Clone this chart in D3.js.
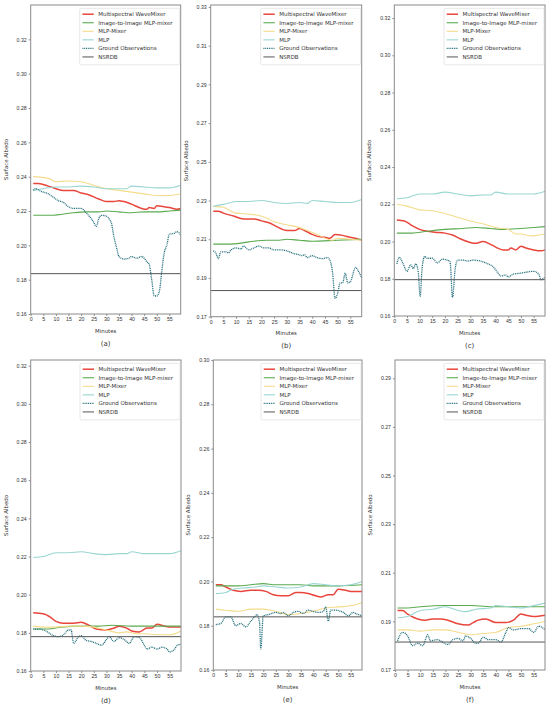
<!DOCTYPE html>
<html>
<head>
<meta charset="utf-8">
<script src="https://cdn.jsdelivr.net/npm/d3@7"></script>
<style>
  body { margin: 0; background: #fff; }
  svg { font-family: "DejaVu Sans", sans-serif; }
</style>
</head>
<body>
<div id="chart"></div>
<script>
// series names, legend order
const seriesNames = ["Multispectral WaveMixer", "Image-to-Image MLP-mixer", "MLP-Mixer", "MLP", "Ground Observations", "NSRDB"];
const panelLabels = ["(a)", "(b)", "(c)", "(d)", "(e)", "(f)"];
const xTicks = [0, 5, 10, 15, 20, 25, 30, 35, 40, 45, 50, 55];

// panel (a)
const aWave = [[1,0.236],[3,0.236],[7,0.2345],[10,0.233],[13,0.232],[17,0.232],[20,0.2305],[23,0.2295],[27,0.227],[30,0.2255],[33,0.2255],[35,0.226],[37,0.2255],[40,0.224],[44,0.2215],[46,0.221],[47,0.222],[49,0.2215],[50,0.223],[53,0.2225],[55,0.222],[58,0.221],[59.5,0.2215]];
const aI2I = [[1,0.2175],[7,0.2175],[12,0.218],[17,0.219],[22,0.2195],[27,0.2195],[30,0.22],[35,0.2195],[40,0.219],[45,0.2195],[50,0.2195],[55,0.22],[59.5,0.2205]];
const aMixer = [[1,0.24],[7,0.239],[10,0.237],[15,0.2375],[20,0.237],[25,0.235],[30,0.233],[35,0.232],[40,0.231],[45,0.23],[50,0.229],[55,0.229],[59.5,0.23]];
const aMLP = [[1,0.232],[5,0.233],[10,0.234],[15,0.234],[20,0.2345],[25,0.234],[30,0.233],[35,0.233],[38,0.233],[40,0.2345],[45,0.234],[50,0.2335],[55,0.2335],[59.5,0.235]];
const aGround = [[1,0.232],[2,0.233],[4,0.2315],[7,0.23],[9,0.228],[11,0.226],[13,0.225],[15,0.2225],[17,0.2215],[20,0.2215],[22,0.219],[23.5,0.2165],[25,0.2135],[26,0.211],[27,0.2155],[28,0.2175],[30,0.217],[31.5,0.2145],[32,0.213],[33,0.205],[34,0.199],[35,0.1935],[37,0.192],[39,0.1925],[40,0.1935],[42,0.1925],[44,0.1935],[45,0.1925],[46,0.1905],[47,0.189],[48,0.18],[49,0.1705],[50,0.1705],[51,0.173],[52,0.185],[53,0.196],[54,0.2],[55,0.2065],[57,0.207],[58,0.208],[59.5,0.206]];
const aNsrdb = 0.1835;

// panel (b)
const bWave = [[1,0.2245],[3,0.2245],[5,0.2235],[9,0.222],[13,0.2205],[17,0.2205],[20,0.2195],[23,0.2185],[26,0.2165],[30,0.2145],[33,0.2145],[35,0.2155],[37,0.2145],[40,0.2125],[42,0.2115],[45,0.211],[47,0.2105],[49,0.2125],[52,0.212],[55,0.211],[57,0.2105],[59.5,0.2095]];
const bI2I = [[1,0.2075],[7,0.2075],[12,0.208],[17,0.209],[22,0.2095],[27,0.2095],[30,0.21],[35,0.2095],[40,0.209],[50,0.2095],[59.5,0.21]];
const bMixer = [[1,0.227],[5,0.2265],[8,0.2245],[10,0.2235],[15,0.223],[18,0.2225],[22,0.221],[25,0.219],[30,0.2175],[35,0.216],[38,0.2145],[42,0.2125],[45,0.2105],[48,0.2095],[50,0.2105],[55,0.21],[59.5,0.2095]];
const bMLP = [[1,0.227],[5,0.228],[10,0.2295],[15,0.2295],[20,0.23],[25,0.229],[30,0.2285],[35,0.229],[38,0.2285],[40,0.23],[45,0.2295],[50,0.229],[55,0.229],[59.5,0.2305]];
const bGround = [[1,0.204],[2,0.203],[3,0.2],[4,0.2035],[6,0.2035],[7,0.203],[8,0.2045],[10,0.2055],[12,0.205],[13,0.2065],[15,0.2045],[17,0.2055],[19,0.2065],[21,0.2055],[23,0.2055],[25,0.2045],[28,0.2045],[30,0.204],[33,0.2025],[35,0.202],[36,0.2015],[37,0.202],[38,0.2005],[40,0.2015],[42,0.2005],[44,0.2],[46,0.2005],[47,0.199],[48,0.193],[49,0.1795],[50,0.182],[51,0.1875],[52,0.1875],[53,0.1925],[54,0.1875],[55,0.188],[56.5,0.194],[57,0.1955],[58,0.194],[59.5,0.19]];
const bNsrdb = 0.1835;

// panel (c)
const cWave = [[1,0.2115],[4,0.211],[7,0.2085],[10,0.2065],[13,0.2055],[16,0.205],[20,0.2045],[23,0.2035],[26,0.2015],[30,0.1995],[32,0.199],[35,0.2],[38,0.1985],[40,0.197],[43,0.1955],[45,0.1955],[46,0.1965],[48,0.1955],[50,0.1975],[52,0.1965],[55,0.1955],[58,0.195],[59.5,0.1955]];
const cI2I = [[1,0.2045],[7,0.2045],[13,0.2055],[20,0.2065],[27,0.207],[32,0.2075],[38,0.207],[43,0.2065],[50,0.207],[55,0.2075],[59.5,0.208]];
const cMixer = [[1,0.22],[5,0.219],[10,0.217],[15,0.2165],[20,0.215],[25,0.213],[30,0.211],[35,0.2095],[40,0.2075],[45,0.2065],[48,0.204],[50,0.204],[54,0.203],[57,0.2035],[59.5,0.204]];
const cMLP = [[1,0.223],[5,0.2235],[10,0.2255],[15,0.2255],[20,0.2265],[25,0.2255],[30,0.2245],[35,0.225],[38,0.225],[40,0.2265],[45,0.2255],[50,0.2255],[55,0.2255],[59.5,0.227]];
const cGround = [[1,0.188],[2,0.1915],[3.5,0.188],[5,0.184],[6.5,0.1875],[7.5,0.1855],[8.5,0.188],[9.5,0.183],[10.2,0.1705],[11,0.186],[12,0.192],[13,0.191],[15,0.191],[17,0.1885],[19,0.1905],[21,0.19],[22,0.189],[23,0.17],[24,0.185],[25,0.19],[27,0.19],[29,0.1895],[31,0.19],[34,0.1895],[37,0.188],[39,0.1865],[41,0.183],[42,0.1815],[44,0.182],[45,0.181],[47,0.1825],[50,0.183],[52,0.1835],[55,0.184],[57,0.1825],[58,0.1795],[59.5,0.181]];
const cNsrdb = 0.1795;

// panel (d)
const dWave = [[1,0.1905],[5,0.19],[8,0.188],[10,0.186],[13,0.185],[17,0.185],[20,0.1855],[23,0.184],[26,0.182],[30,0.1815],[33,0.1825],[35,0.1835],[38,0.1825],[40,0.181],[43,0.1805],[46,0.1825],[48,0.1825],[50,0.1845],[53,0.1835],[56,0.183],[59.5,0.183]];
const dI2I = [[1,0.182],[7,0.182],[12,0.183],[20,0.1835],[27,0.1835],[32,0.184],[40,0.1835],[50,0.1835],[59.5,0.1835]];
const dMixer = [[1,0.1835],[5,0.183],[10,0.183],[15,0.1835],[20,0.1835],[25,0.183],[30,0.1815],[35,0.18],[38,0.1805],[42,0.1795],[45,0.1795],[50,0.179],[55,0.179],[59.5,0.181]];
const dMLP = [[1,0.2195],[5,0.22],[10,0.222],[15,0.222],[20,0.2225],[25,0.2215],[30,0.221],[35,0.2215],[38,0.2215],[40,0.2225],[45,0.2215],[50,0.2215],[55,0.2215],[59.5,0.223]];
const dGround = [[1,0.182],[3,0.182],[6,0.181],[9,0.1785],[11,0.178],[13,0.179],[15,0.1815],[16,0.1815],[17,0.1745],[19,0.178],[20,0.1785],[22,0.176],[24,0.1755],[26,0.1745],[28,0.1735],[30,0.1765],[31,0.178],[33,0.1755],[35,0.1775],[37,0.1765],[39,0.1745],[41,0.178],[43,0.1775],[45,0.1735],[46,0.1715],[48,0.1725],[50,0.1715],[52,0.1725],[54,0.1715],[55,0.17],[57,0.1715],[58,0.1735],[59.5,0.174]];
const dNsrdb = 0.178;

// panel (e)
const eWave = [[1,0.1985],[3,0.1985],[5,0.1975],[8,0.196],[11,0.1955],[15,0.196],[18,0.196],[21,0.1955],[24,0.194],[27,0.1935],[30,0.1935],[33,0.195],[35,0.195],[38,0.1945],[41,0.1935],[43,0.193],[46,0.194],[48,0.194],[50,0.1965],[53,0.196],[55,0.1955],[59.5,0.1955]];
const eI2I = [[1,0.198],[5,0.198],[10,0.198],[15,0.1985],[20,0.199],[25,0.1985],[30,0.1985],[35,0.1985],[40,0.198],[45,0.198],[50,0.198],[59.5,0.1985]];
const eMixer = [[1,0.1875],[5,0.187],[10,0.1865],[15,0.1875],[20,0.1875],[25,0.1865],[30,0.185],[35,0.1855],[40,0.1865],[45,0.188],[50,0.1885],[55,0.189],[59.5,0.1905]];
const eMLP = [[1,0.1945],[5,0.195],[8,0.1965],[12,0.197],[17,0.1975],[20,0.198],[25,0.1975],[30,0.197],[35,0.1975],[38,0.1985],[40,0.199],[45,0.1985],[50,0.198],[55,0.1985],[59.5,0.2]];
const eGround = [[1,0.1805],[3,0.181],[5,0.184],[7,0.184],[9,0.18],[11,0.181],[13,0.1795],[15,0.182],[16.5,0.184],[17.5,0.185],[18.5,0.1815],[19,0.1695],[20,0.1845],[22,0.185],[25,0.186],[27,0.1855],[28,0.186],[30,0.1845],[32,0.186],[34,0.1865],[36,0.1855],[38,0.187],[40,0.1865],[42,0.186],[44,0.1865],[45,0.1885],[46,0.182],[47,0.187],[49,0.187],[52,0.186],[54,0.1845],[56,0.186],[57,0.1855],[59.5,0.1845]];
const eNsrdb = 0.184;

// panel (f)
const fWave = [[1,0.1945],[3,0.1945],[5,0.193],[9,0.191],[12,0.1905],[15,0.191],[18,0.191],[21,0.1905],[25,0.189],[29,0.1885],[31,0.1895],[33,0.1905],[36,0.191],[40,0.1895],[44,0.1895],[47,0.1905],[50,0.193],[52,0.1925],[55,0.192],[59.5,0.1925]];
const fI2I = [[1,0.1955],[5,0.1955],[10,0.196],[20,0.1965],[30,0.1965],[40,0.196],[50,0.196],[59.5,0.196]];
const fMixer = [[1,0.1865],[5,0.1865],[10,0.186],[15,0.1865],[20,0.1865],[25,0.1855],[30,0.1845],[35,0.185],[40,0.1855],[45,0.1875],[50,0.188],[55,0.189],[59.5,0.19]];
const fMLP = [[1,0.1915],[5,0.192],[10,0.1945],[15,0.195],[20,0.196],[25,0.1945],[28,0.194],[32,0.195],[38,0.1955],[40,0.1965],[45,0.196],[50,0.1955],[55,0.1965],[59.5,0.1975]];
const fGround = [[1,0.182],[3,0.1855],[5,0.184],[7,0.18],[9,0.181],[11,0.18],[13,0.1845],[14,0.182],[17,0.1825],[18,0.182],[21,0.1805],[23,0.1825],[25,0.183],[27,0.182],[28,0.184],[30,0.183],[32,0.181],[33,0.181],[35,0.1835],[37,0.1825],[40,0.1825],[42,0.1815],[44,0.1855],[45,0.1875],[47,0.1865],[50,0.187],[53,0.187],[55,0.1855],[57,0.188],[59.5,0.1865]];
const fNsrdb = 0.1815;

// y tick labels per panel
const aYTicks = [0.16, 0.18, 0.20, 0.22, 0.24, 0.26, 0.28, 0.30, 0.32];
const bYTicks = [0.17, 0.19, 0.21, 0.23, 0.25, 0.27, 0.29, 0.31, 0.33];
const cYTicks = [0.16, 0.18, 0.20, 0.22, 0.24, 0.26, 0.28, 0.30, 0.32];
const dYTicks = [0.16, 0.18, 0.20, 0.22, 0.24, 0.26, 0.28, 0.30, 0.32];
const eYTicks = [0.16, 0.18, 0.20, 0.22, 0.24, 0.26, 0.28, 0.30];
const fYTicks = [0.17, 0.19, 0.21, 0.23, 0.25, 0.27, 0.29];

const panels = [
  {series: [aWave, aI2I, aMixer, aMLP, aGround], nsrdb: aNsrdb, yTicks: aYTicks},
  {series: [bWave, bI2I, bMixer, bMLP, bGround], nsrdb: bNsrdb, yTicks: bYTicks},
  {series: [cWave, cI2I, cMixer, cMLP, cGround], nsrdb: cNsrdb, yTicks: cYTicks},
  {series: [dWave, dI2I, dMixer, dMLP, dGround], nsrdb: dNsrdb, yTicks: dYTicks},
  {series: [eWave, eI2I, eMixer, eMLP, eGround], nsrdb: eNsrdb, yTicks: eYTicks},
  {series: [fWave, fI2I, fMixer, fMLP, fGround], nsrdb: fNsrdb, yTicks: fYTicks}
];

// layout: plot box and y extent for each panel
const boxes = [
  {x0: 30.7, x1: 180.7, y0: 5, y1: 314, yMin: 0.16, yMax: 0.340},
  {x0: 210.7, x1: 361.7, y0: 5, y1: 316.7, yMin: 0.17, yMax: 0.331},
  {x0: 394.3, x1: 545, y0: 5, y1: 316, yMin: 0.16, yMax: 0.327},
  {x0: 30.7, x1: 181, y0: 360, y1: 671, yMin: 0.16, yMax: 0.323},
  {x0: 213.3, x1: 362, y0: 360, y1: 670, yMin: 0.16, yMax: 0.30},
  {x0: 395, x1: 545, y0: 360, y1: 670, yMin: 0.17, yMax: 0.2975}
];

const styles = [
  {color: "#e8463c", width: 1.5, dash: null},
  {color: "#5aaa50", width: 1.1, dash: null},
  {color: "#f4dc8c", width: 1.1, dash: null},
  {color: "#99d6d2", width: 1.1, dash: null},
  {color: "#226f7c", width: 1.3, dash: "1,0.8"},
  {color: "#555555", width: 1.0, dash: null}
];

const svg = d3.select("#chart").append("svg")
    .attr("width", 550)
    .attr("height", 710);

panels.forEach((p, i) => {
    const b = boxes[i];
    const x = d3.scaleLinear().domain([0, 59.5]).range([b.x0, b.x1]);
    const y = d3.scaleLinear().domain([b.yMin, b.yMax]).range([b.y1, b.y0]);
    const g = svg.append("g").attr("class", "panel");

    const line = d3.line()
        .x(d => x(d[0]))
        .y(d => y(d[1]))
        .curve(d3.curveMonotoneX);

    p.series.forEach((s, k) => {
        g.append("path")
            .datum(s)
            .attr("fill", "none")
            .attr("stroke", styles[k].color)
            .attr("stroke-width", styles[k].width)
            .attr("stroke-dasharray", styles[k].dash)
            .attr("d", line);
    });
    // NSRDB reference line
    g.append("line")
        .attr("x1", x(0)).attr("x2", x(59.5))
        .attr("y1", y(p.nsrdb)).attr("y2", y(p.nsrdb))
        .attr("stroke", styles[5].color)
        .attr("stroke-width", styles[5].width);

    // axes
    const xAxis = d3.axisBottom(x).tickValues(xTicks).tickSize(2).tickPadding(1.5);
    const yAxis = d3.axisLeft(y).tickValues(p.yTicks).tickFormat(d3.format(".2f")).tickSize(2).tickPadding(2);
    const gx = g.append("g").attr("transform", `translate(0,${b.y1})`).call(xAxis);
    const gy = g.append("g").attr("transform", `translate(${b.x0},0)`).call(yAxis);
    [gx, gy].forEach(a => {
        a.select(".domain").remove();
        a.selectAll("line").attr("stroke", "#444").attr("stroke-width", 0.6);
        a.selectAll("text").attr("fill", "#333").style("font-size", "5.2px");
    });

    // frame
    g.append("rect")
        .attr("x", b.x0).attr("y", b.y0)
        .attr("width", b.x1 - b.x0).attr("height", b.y1 - b.y0)
        .attr("fill", "none")
        .attr("stroke", "#8a8a8a")
        .attr("stroke-width", 1);

    // axis titles
    g.append("text")
        .attr("transform", `translate(${b.x0 - 23},${(b.y0 + b.y1) / 2}) rotate(-90)`)
        .attr("text-anchor", "middle")
        .attr("fill", "#333")
        .style("font-size", "5.4px")
        .text("Surface Albedo");
    g.append("text")
        .attr("x", (b.x0 + b.x1) / 2)
        .attr("y", b.y1 + 18.5)
        .attr("text-anchor", "middle")
        .attr("fill", "#333")
        .style("font-size", "5.4px")
        .text("Minutes");
    g.append("text")
        .attr("x", (b.x0 + b.x1) / 2)
        .attr("y", b.y1 + 31.5)
        .attr("text-anchor", "middle")
        .attr("fill", "#333")
        .style("font-size", "7px")
        .text(panelLabels[i]);

    // legend
    const lg = g.append("g").attr("transform", `translate(${b.x1 - 101},${b.y0 + 3.3})`);
    lg.append("rect")
        .attr("width", 100).attr("height", 56.5).attr("rx", 1.5)
        .attr("fill", "#fff").attr("fill-opacity", 0.85)
        .attr("stroke", "#d6d6d6").attr("stroke-width", 0.6);
    seriesNames.forEach((name, k) => {
        const yy = 5.9 + k * 8.55;
        lg.append("line")
            .attr("x1", 2.7).attr("x2", 14)
            .attr("y1", yy).attr("y2", yy)
            .attr("stroke", styles[k].color)
            .attr("stroke-width", styles[k].width)
            .attr("stroke-dasharray", styles[k].dash);
        lg.append("text")
            .attr("x", 18.5).attr("y", yy)
            .attr("dominant-baseline", "central")
            .attr("fill", "#333")
            .style("font-size", "5.5px")
            .text(name);
    });
});
</script>
</body>
</html>
